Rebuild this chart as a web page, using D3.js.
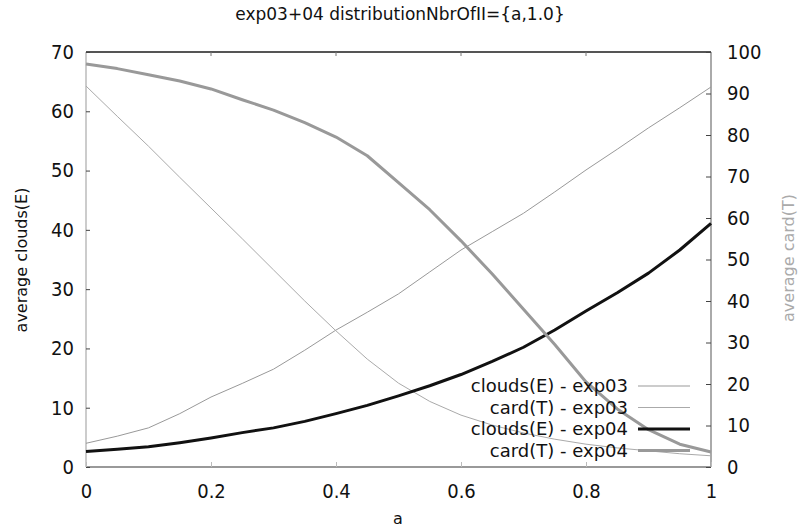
<!DOCTYPE html>
<html>
<head>
<meta charset="utf-8">
<script src="https://cdn.jsdelivr.net/npm/d3@7"></script>
<style>
  body { margin: 0; background: #fff; }
  text { font-family: "DejaVu Sans", sans-serif; }
  .tick text { font-family: "Liberation Sans Narrow", "DejaVu Sans Condensed", sans-serif; }
</style>
</head>
<body>
<svg id="vis" width="800" height="531"></svg>
<script>
// values, a in steps of 0.05
const aValues = [0, 0.05, 0.1, 0.15, 0.2, 0.25, 0.3, 0.35, 0.4, 0.45, 0.5,
  0.55, 0.6, 0.65, 0.7, 0.75, 0.8, 0.85, 0.9, 0.95, 1];
// left axis
const cloudsExp03 = [4.0, 5.2, 6.6, 9.0, 11.8, 14.1, 16.5, 19.7, 23.1, 26.1, 29.2,
  32.9, 36.6, 39.7, 42.8, 46.4, 50.1, 53.6, 57.2, 60.6, 64.1];
const cloudsExp04 = [2.6, 3.0, 3.4, 4.1, 4.9, 5.8, 6.6, 7.7, 9.0, 10.4, 12.0,
  13.7, 15.6, 17.8, 20.2, 23.1, 26.3, 29.4, 32.7, 36.6, 41.1];
// right axis
const cardExp03 = [91.8, 84.5, 77.3, 69.8, 62.4, 55.0, 47.5, 40.0, 32.8, 26.0, 20.2,
  15.8, 12.5, 10.1, 8.2, 6.7, 5.5, 4.6, 3.9, 3.2, 2.7];
const cardExp04 = [97.1, 96.0, 94.5, 93.0, 91.1, 88.5, 86.0, 83.0, 79.5, 75.0, 68.5,
  62.0, 54.5, 46.5, 38.0, 29.5, 20.5, 14.0, 9.0, 5.5, 3.6];

const xTicks = [0, 0.2, 0.4, 0.6, 0.8, 1];
const yLeftTicks = [0, 10, 20, 30, 40, 50, 60, 70];
const yRightTicks = [0, 10, 20, 30, 40, 50, 60, 70, 80, 90, 100];

const svg = d3.select('#vis');
const margin = { top: 52, right: 89, bottom: 64, left: 86 };
const width = +svg.attr('width');
const height = +svg.attr('height');

const x = d3.scaleLinear().domain([0, 1]).range([margin.left, width - margin.right]);
const yL = d3.scaleLinear().domain([0, 70]).range([height - margin.bottom, margin.top]);
const yR = d3.scaleLinear().domain([0, 100]).range([height - margin.bottom, margin.top]);

const x0 = margin.left, x1 = width - margin.right;
const y0 = height - margin.bottom, y1 = margin.top;

// frame, each side its own grey like the original
svg.append('line').attr('x1', x0).attr('x2', x1).attr('y1', y1).attr('y2', y1)
  .attr('stroke', '#555').attr('stroke-width', 2);
svg.append('line').attr('x1', x0).attr('x2', x0).attr('y1', y0).attr('y2', y1)
  .attr('stroke', '#ccc').attr('stroke-width', 2);
svg.append('line').attr('x1', x1).attr('x2', x1).attr('y1', y0).attr('y2', y1)
  .attr('stroke', '#aaa').attr('stroke-width', 2);
svg.append('line').attr('x1', x0).attr('x2', x1).attr('y1', y0).attr('y2', y0)
  .attr('stroke', '#999').attr('stroke-width', 2);

// bottom axis, inward ticks
const xAxis = svg.append('g')
  .attr('transform', `translate(0,${y0})`)
  .call(d3.axisBottom(x).tickValues(xTicks).tickSizeInner(-5).tickSizeOuter(0).tickPadding(17)
    .tickFormat(d => d3.format('~g')(d)));
xAxis.select('.domain').remove();
xAxis.selectAll('line').attr('stroke', '#bbb');
xAxis.selectAll('text').style('font-size', '20px').attr('fill', '#111');

// mirrored ticks on top
svg.append('g').selectAll('line')
  .data(xTicks.slice(1, -1)).enter().append('line')
  .attr('x1', d => x(d)).attr('x2', d => x(d))
  .attr('y1', y1).attr('y2', y1 + 4)
  .attr('stroke', '#777');

// left axis
const yAxisL = svg.append('g')
  .attr('transform', `translate(${x0},0)`)
  .call(d3.axisLeft(yL).tickValues(yLeftTicks).tickSizeInner(-4).tickSizeOuter(0).tickPadding(12));
yAxisL.select('.domain').remove();
yAxisL.selectAll('line').attr('stroke', '#444');
yAxisL.selectAll('text').style('font-size', '20px').attr('fill', '#111');

// right axis
const yAxisR = svg.append('g')
  .attr('transform', `translate(${x1},0)`)
  .call(d3.axisRight(yR).tickValues(yRightTicks).tickSizeInner(-5).tickSizeOuter(0).tickPadding(16));
yAxisR.select('.domain').remove();
yAxisR.selectAll('line').attr('stroke', '#444');
yAxisR.selectAll('text').style('font-size', '20px').attr('fill', '#111');

// titles
svg.append('text').attr('x', 400).attr('y', 20)
  .attr('text-anchor', 'middle').style('font-size', '17px').attr('fill', '#111')
  .text('exp03+04 distributionNbrOfII={a,1.0}');
svg.append('text').attr('x', 398).attr('y', 524)
  .attr('text-anchor', 'middle').style('font-size', '16px').attr('fill', '#111')
  .text('a');
svg.append('text')
  .attr('transform', 'translate(27,260) rotate(-90)')
  .attr('text-anchor', 'middle').style('font-size', '16px').attr('fill', '#111')
  .text('average clouds(E)');
svg.append('text')
  .attr('transform', 'translate(794,258) rotate(-90)')
  .attr('text-anchor', 'middle').style('font-size', '16px').attr('fill', '#aaa')
  .text('average card(T)');

// series
const series = [
  { name: 'clouds(E) - exp03', values: cloudsExp03, y: yL, color: '#999', width: 1 },
  { name: 'card(T) - exp03', values: cardExp03, y: yR, color: '#aaa', width: 1 },
  { name: 'clouds(E) - exp04', values: cloudsExp04, y: yL, color: '#111', width: 3 },
  { name: 'card(T) - exp04', values: cardExp04, y: yR, color: '#999', width: 3 },
];

series.forEach(s => {
  const line = d3.line()
    .x((d, i) => x(aValues[i]))
    .y(d => s.y(d));
  svg.append('path')
    .datum(s.values)
    .attr('d', line)
    .attr('fill', 'none')
    .attr('stroke', s.color)
    .attr('stroke-width', s.width)
    .attr('stroke-linejoin', 'round');
});

// legend, bottom right inside the plot
const legend = svg.append('g').attr('transform', 'translate(628,386)');
series.forEach((s, i) => {
  legend.append('text')
    .attr('x', 0).attr('y', i * 21.5)
    .attr('dy', '0.35em')
    .attr('text-anchor', 'end')
    .style('font-size', '18px').attr('fill', '#111')
    .text(s.name);
  legend.append('line')
    .attr('x1', 10).attr('x2', 62)
    .attr('y1', i * 21.5).attr('y2', i * 21.5)
    .attr('stroke', s.color).attr('stroke-width', s.width);
});
</script>
</body>
</html>
